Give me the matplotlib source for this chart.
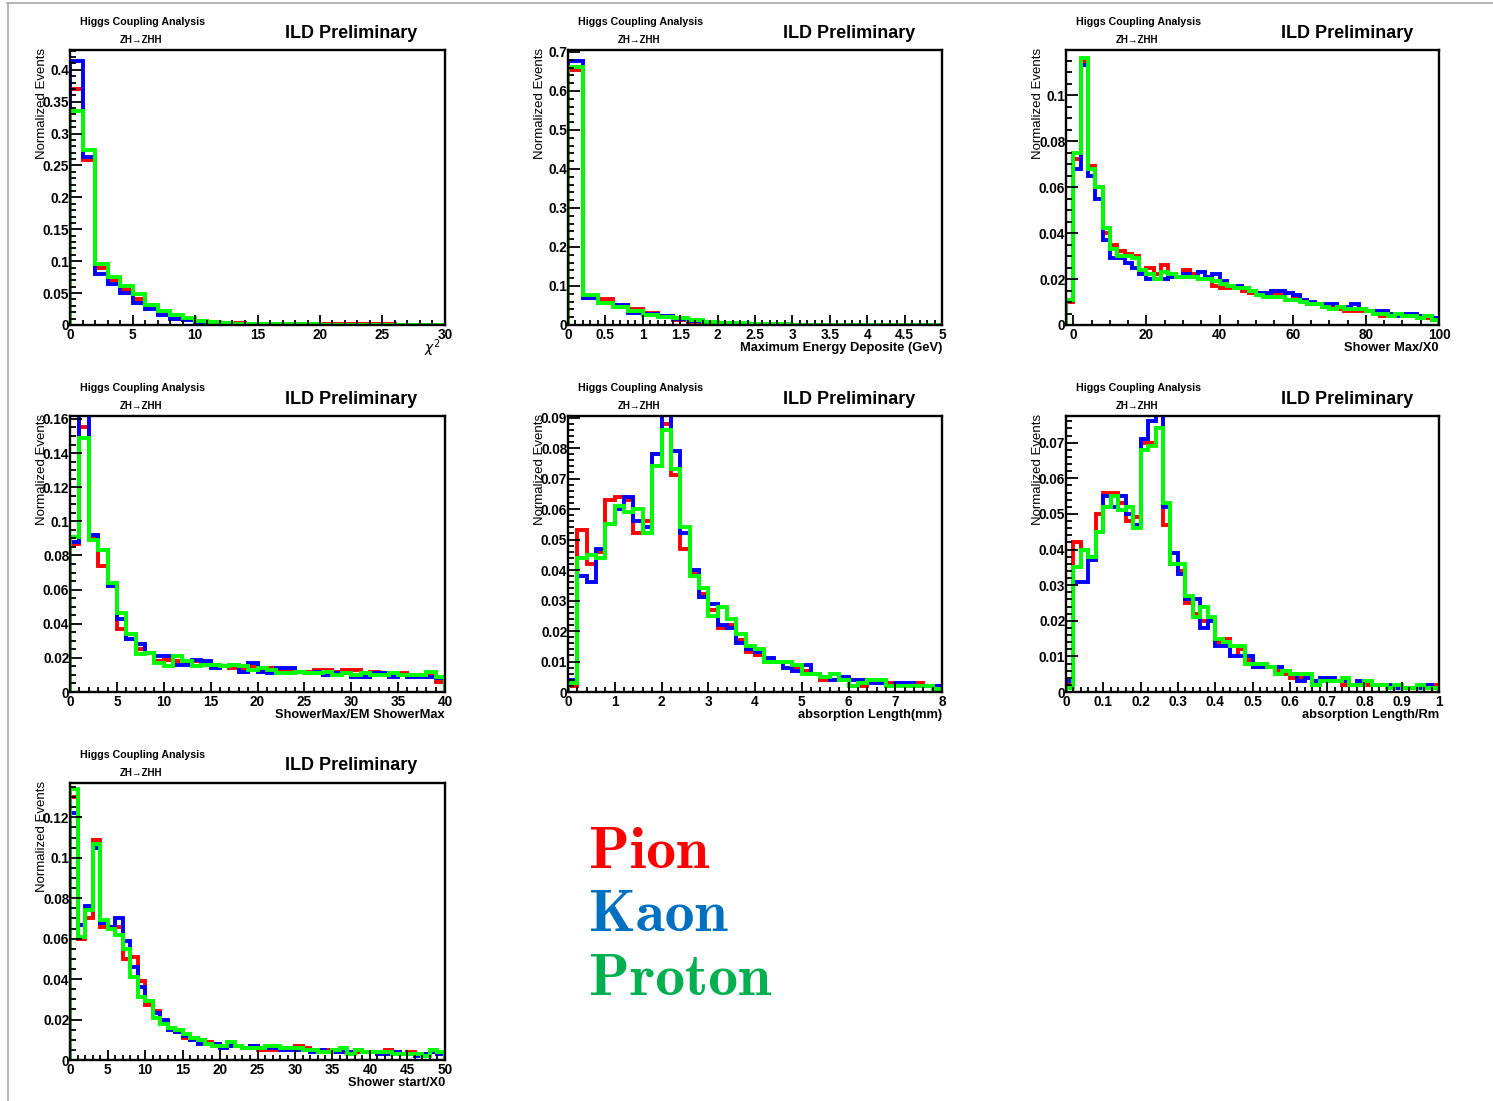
import numpy as np
import matplotlib
matplotlib.use('Agg')
import matplotlib.pyplot as plt
from matplotlib.ticker import MultipleLocator, FuncFormatter
from matplotlib.lines import Line2D

plt.rcParams['font.family'] = ['Liberation Sans', 'DejaVu Sans']

# ==== data (normalized events per bin) ====
# chi2, 30 bins from 0 to 30
chi2_pion = [0.370, 0.258, 0.089, 0.070, 0.055, 0.040, 0.032, 0.018, 0.013, 0.009,
             0.006, 0.004, 0.003, 0.003, 0.002, 0.002, 0.002, 0.002, 0.001, 0.001,
             0.001, 0.001, 0.001, 0.001, 0.001, 0.001, 0.000, 0.000, 0.000, 0.000]
chi2_kaon = [0.414, 0.263, 0.080, 0.064, 0.050, 0.035, 0.025, 0.015, 0.010, 0.008,
             0.005, 0.003, 0.002, 0.002, 0.001, 0.001, 0.001, 0.000, 0.000, 0.000,
             0.000, 0.000, 0.000, 0.000, 0.000, 0.000, 0.000, 0.000, 0.000, 0.000]
chi2_proton = [0.335, 0.275, 0.096, 0.076, 0.061, 0.048, 0.031, 0.022, 0.015, 0.011,
               0.007, 0.004, 0.003, 0.002, 0.002, 0.001, 0.001, 0.001, 0.001, 0.001,
               0.000, 0.000, 0.000, 0.000, 0.000, 0.000, 0.000, 0.000, 0.000, 0.000]

# max energy deposit, 25 bins from 0 to 5 GeV
edep_pion = [0.655, 0.070, 0.066, 0.050, 0.042, 0.030, 0.023, 0.012, 0.007, 0.005,
             0.003, 0.003, 0.002, 0.002, 0.001, 0.001, 0.001, 0.001, 0.001, 0.000,
             0.000, 0.000, 0.000, 0.000, 0.000]
edep_kaon = [0.676, 0.068, 0.056, 0.051, 0.030, 0.028, 0.022, 0.015, 0.010, 0.006,
             0.004, 0.003, 0.002, 0.002, 0.001, 0.001, 0.001, 0.000, 0.000, 0.000,
             0.000, 0.000, 0.000, 0.000, 0.000]
edep_proton = [0.661, 0.077, 0.056, 0.045, 0.035, 0.026, 0.020, 0.017, 0.012, 0.008,
               0.005, 0.004, 0.003, 0.002, 0.002, 0.001, 0.001, 0.001, 0.001, 0.001,
               0.000, 0.000, 0.000, 0.000, 0.000]

# shower max / X0, 51 bins from -2 to 100
smax_pion = [0.010, 0.072, 0.115, 0.069, 0.060, 0.040, 0.035, 0.032, 0.031, 0.030,
             0.023, 0.025, 0.022, 0.026, 0.022, 0.021, 0.024, 0.022, 0.020, 0.020,
             0.017, 0.016, 0.016, 0.016, 0.015, 0.014, 0.013, 0.013, 0.014, 0.013,
             0.014, 0.012, 0.011, 0.009, 0.009, 0.008, 0.008, 0.007, 0.006, 0.006,
             0.006, 0.006, 0.005, 0.004, 0.004, 0.004, 0.005, 0.004, 0.004, 0.003,
             0.002]
smax_kaon = [0.011, 0.068, 0.113, 0.065, 0.055, 0.037, 0.029, 0.029, 0.027, 0.025,
             0.022, 0.020, 0.020, 0.020, 0.021, 0.021, 0.022, 0.021, 0.023, 0.021,
             0.022, 0.019, 0.017, 0.017, 0.016, 0.015, 0.014, 0.014, 0.015, 0.015,
             0.014, 0.013, 0.011, 0.010, 0.009, 0.009, 0.009, 0.008, 0.008, 0.009,
             0.007, 0.006, 0.006, 0.006, 0.005, 0.004, 0.005, 0.005, 0.004, 0.004,
             0.003]
smax_proton = [0.011, 0.075, 0.116, 0.068, 0.060, 0.042, 0.033, 0.030, 0.030, 0.029,
               0.024, 0.022, 0.020, 0.023, 0.022, 0.021, 0.021, 0.021, 0.020, 0.020,
               0.019, 0.018, 0.017, 0.016, 0.016, 0.015, 0.013, 0.012, 0.012, 0.012,
               0.011, 0.011, 0.010, 0.009, 0.009, 0.008, 0.007, 0.008, 0.007, 0.007,
               0.007, 0.006, 0.005, 0.005, 0.004, 0.005, 0.004, 0.004, 0.003, 0.004,
               0.002]

# shower max / EM shower max, 40 bins from 0 to 40
ratio_pion = [0.087, 0.155, 0.090, 0.074, 0.063, 0.037, 0.031, 0.025, 0.023, 0.018,
              0.019, 0.018, 0.017, 0.018, 0.017, 0.016, 0.015, 0.014, 0.014, 0.015,
              0.013, 0.014, 0.013, 0.013, 0.012, 0.012, 0.013, 0.013, 0.012, 0.013,
              0.013, 0.011, 0.012, 0.011, 0.010, 0.011, 0.010, 0.010, 0.011, 0.006]
ratio_kaon = [0.088, 0.165, 0.092, 0.083, 0.062, 0.043, 0.031, 0.028, 0.023, 0.021,
              0.021, 0.016, 0.016, 0.019, 0.018, 0.014, 0.015, 0.016, 0.012, 0.017,
              0.012, 0.011, 0.014, 0.014, 0.012, 0.011, 0.012, 0.010, 0.011, 0.011,
              0.009, 0.009, 0.011, 0.011, 0.009, 0.010, 0.009, 0.009, 0.009, 0.008]
ratio_proton = [0.091, 0.149, 0.089, 0.083, 0.064, 0.046, 0.034, 0.022, 0.023, 0.017,
                0.015, 0.021, 0.018, 0.015, 0.016, 0.016, 0.015, 0.016, 0.015, 0.013,
                0.014, 0.013, 0.011, 0.011, 0.012, 0.011, 0.011, 0.012, 0.010, 0.011,
                0.010, 0.011, 0.010, 0.010, 0.011, 0.010, 0.010, 0.010, 0.012, 0.009]

# absorption length (mm), 40 bins from 0 to 8
absmm_pion = [0.002, 0.053, 0.042, 0.046, 0.063, 0.064, 0.063, 0.052, 0.056, 0.078,
              0.088, 0.071, 0.047, 0.039, 0.032, 0.027, 0.021, 0.022, 0.017, 0.013,
              0.012, 0.010, 0.010, 0.010, 0.008, 0.007, 0.006, 0.004, 0.004, 0.004,
              0.002, 0.002, 0.003, 0.004, 0.003, 0.003, 0.003, 0.003, 0.002, 0.002]
absmm_kaon = [0.004, 0.038, 0.036, 0.047, 0.055, 0.060, 0.064, 0.056, 0.054, 0.078,
              0.092, 0.079, 0.052, 0.040, 0.031, 0.029, 0.022, 0.021, 0.016, 0.014,
              0.013, 0.011, 0.010, 0.008, 0.007, 0.009, 0.006, 0.005, 0.004, 0.005,
              0.004, 0.004, 0.003, 0.003, 0.002, 0.003, 0.003, 0.002, 0.002, 0.002]
absmm_proton = [0.003, 0.044, 0.045, 0.044, 0.055, 0.061, 0.059, 0.060, 0.052, 0.074,
                0.086, 0.073, 0.054, 0.038, 0.034, 0.025, 0.028, 0.024, 0.019, 0.015,
                0.014, 0.010, 0.010, 0.010, 0.009, 0.006, 0.006, 0.005, 0.006, 0.004,
                0.002, 0.003, 0.004, 0.004, 0.002, 0.002, 0.002, 0.002, 0.002, 0.001]

# absorption length / Rm, 50 bins from 0 to 1
absrm_pion = [0.002, 0.042, 0.040, 0.038, 0.050, 0.056, 0.056, 0.053, 0.048, 0.049,
              0.070, 0.070, 0.074, 0.047, 0.036, 0.034, 0.025, 0.022, 0.020, 0.020,
              0.014, 0.015, 0.010, 0.012, 0.009, 0.008, 0.008, 0.007, 0.006, 0.005,
              0.004, 0.004, 0.004, 0.002, 0.003, 0.003, 0.003, 0.002, 0.002, 0.002,
              0.002, 0.002, 0.002, 0.002, 0.001, 0.001, 0.001, 0.001, 0.001, 0.002]
absrm_kaon = [0.003, 0.031, 0.031, 0.037, 0.045, 0.055, 0.052, 0.055, 0.050, 0.047,
              0.071, 0.076, 0.079, 0.052, 0.039, 0.033, 0.026, 0.026, 0.018, 0.020,
              0.013, 0.013, 0.010, 0.010, 0.010, 0.007, 0.007, 0.007, 0.007, 0.006,
              0.005, 0.003, 0.004, 0.003, 0.004, 0.004, 0.003, 0.003, 0.002, 0.003,
              0.003, 0.002, 0.002, 0.002, 0.001, 0.001, 0.001, 0.001, 0.002, 0.001]
absrm_proton = [0.001, 0.035, 0.040, 0.038, 0.045, 0.052, 0.055, 0.051, 0.052, 0.046,
                0.068, 0.069, 0.074, 0.053, 0.036, 0.036, 0.027, 0.021, 0.024, 0.021,
                0.015, 0.014, 0.013, 0.013, 0.008, 0.008, 0.008, 0.007, 0.005, 0.006,
                0.005, 0.005, 0.005, 0.002, 0.003, 0.003, 0.003, 0.004, 0.002, 0.002,
                0.003, 0.002, 0.002, 0.001, 0.002, 0.001, 0.001, 0.002, 0.001, 0.001]

# shower start / X0, 50 bins from 0 to 50
sstart_pion = [0.130, 0.060, 0.070, 0.109, 0.066, 0.066, 0.066, 0.050, 0.051, 0.039,
               0.027, 0.024, 0.019, 0.016, 0.014, 0.011, 0.011, 0.010, 0.009, 0.007,
               0.007, 0.007, 0.007, 0.006, 0.007, 0.005, 0.005, 0.005, 0.006, 0.006,
               0.007, 0.006, 0.005, 0.005, 0.005, 0.005, 0.004, 0.004, 0.004, 0.004,
               0.004, 0.003, 0.005, 0.004, 0.003, 0.004, 0.003, 0.003, 0.004, 0.003]
sstart_kaon = [0.122, 0.067, 0.076, 0.105, 0.068, 0.066, 0.070, 0.059, 0.046, 0.036,
               0.029, 0.023, 0.020, 0.015, 0.014, 0.012, 0.010, 0.008, 0.008, 0.008,
               0.006, 0.007, 0.007, 0.006, 0.007, 0.006, 0.006, 0.006, 0.005, 0.005,
               0.005, 0.005, 0.004, 0.005, 0.004, 0.004, 0.004, 0.004, 0.005, 0.004,
               0.004, 0.003, 0.003, 0.004, 0.003, 0.003, 0.002, 0.003, 0.004, 0.003]
sstart_proton = [0.134, 0.061, 0.074, 0.107, 0.069, 0.065, 0.062, 0.055, 0.041, 0.031,
                 0.029, 0.021, 0.018, 0.016, 0.015, 0.013, 0.011, 0.010, 0.008, 0.007,
                 0.007, 0.009, 0.007, 0.006, 0.006, 0.006, 0.007, 0.007, 0.006, 0.006,
                 0.006, 0.005, 0.005, 0.004, 0.004, 0.005, 0.006, 0.003, 0.005, 0.004,
                 0.004, 0.004, 0.004, 0.003, 0.003, 0.003, 0.003, 0.002, 0.005, 0.004]

species = ['Pion', 'Kaon', 'Proton']
species_colors = ['#ff0000', '#0070c0', '#00b050']
line_colors = ['#ff0000', '#0000ff', '#00ff00']

# panel settings: data, binning, axis ranges, tick steps, x title
panels = [
    dict(h=(chi2_pion, chi2_kaon, chi2_proton), lo=0, hi=30, ymax=0.431,
         xmaj=5, xmin=1, ymaj=0.05, ymin=0.01, xt=r'$\chi^{2}$'),
    dict(h=(edep_pion, edep_kaon, edep_proton), lo=0, hi=5, ymax=0.705,
         xmaj=0.5, xmin=0.1, ymaj=0.1, ymin=0.02, xt='Maximum Energy Deposite (GeV)'),
    dict(h=(smax_pion, smax_kaon, smax_proton), lo=-2, hi=100, ymax=0.1196,
         xmaj=20, xmin=5, ymaj=0.02, ymin=0.005, xt='Shower Max/X0'),
    dict(h=(ratio_pion, ratio_kaon, ratio_proton), lo=0, hi=40, ymax=0.1617,
         xmaj=5, xmin=1, ymaj=0.02, ymin=0.005, xt='ShowerMax/EM ShowerMax'),
    dict(h=(absmm_pion, absmm_kaon, absmm_proton), lo=0, hi=8, ymax=0.0905,
         xmaj=1, xmin=0.2, ymaj=0.01, ymin=0.002, xt='absorption Length(mm)'),
    dict(h=(absrm_pion, absrm_kaon, absrm_proton), lo=0, hi=1, ymax=0.0775,
         xmaj=0.1, xmin=0.02, ymaj=0.01, ymin=0.002, xt='absorption Length/Rm'),
    dict(h=(sstart_pion, sstart_kaon, sstart_proton), lo=0, hi=50, ymax=0.137,
         xmaj=5, xmin=1, ymaj=0.02, ymin=0.005, xt='Shower start/X0'),
]

# ==== layout (pixel boxes) ====
W, H = 1493, 1101
fig = plt.figure(figsize=(W / 100, H / 100), dpi=100)
cols = [(70, 445), (568, 942), (1066, 1439)]
rows = [(50, 325), (416, 692), (783, 1060)]

fmt = FuncFormatter(lambda v, p: '%g' % round(v, 6))

for k, p in enumerate(panels):
    (x0, x1), (y0, y1) = cols[k % 3], rows[k // 3]
    ax = fig.add_axes([x0 / W, 1 - y1 / H, (x1 - x0) / W, (y1 - y0) / H])
    n = len(p['h'][0])
    edges = np.linspace(p['lo'], p['hi'], n + 1)
    for vals, c in zip(p['h'], line_colors):
        ax.stairs(vals, edges, color=c, linewidth=2.8, baseline=0)
    ax.set_xlim(p['lo'], p['hi'])
    ax.set_ylim(0, p['ymax'])
    ax.xaxis.set_major_locator(MultipleLocator(p['xmaj']))
    ax.xaxis.set_minor_locator(MultipleLocator(p['xmin']))
    ax.yaxis.set_major_locator(MultipleLocator(p['ymaj']))
    ax.yaxis.set_minor_locator(MultipleLocator(p['ymin']))
    ax.xaxis.set_major_formatter(fmt)
    ax.yaxis.set_major_formatter(fmt)
    for s in ax.spines.values():
        s.set_linewidth(1.7)
        s.set_zorder(3)
    ax.tick_params(axis='both', which='both', direction='in', width=1.3,
                   top=False, right=False, labelsize=9.8)
    ax.tick_params(axis='y', which='major', length=8.5, pad=0.5)
    ax.tick_params(axis='y', which='minor', length=4.3)
    ax.tick_params(axis='x', which='major', length=7.5, pad=2)
    ax.tick_params(axis='x', which='minor', length=3.8)
    for lab in ax.get_xticklabels() + ax.get_yticklabels():
        lab.set_fontweight('bold')

    # ROOT style titles
    fig.text((x0 + 72) / W, 1 - (y0 - 28) / H, 'Higgs Coupling Analysis',
             fontsize=7.7, fontweight='bold', ha='center', va='center')
    fig.text((x0 + 71) / W, 1 - (y0 - 10) / H, 'ZH\u2192ZHH',
             fontsize=7, fontweight='bold', ha='center', va='center')
    fig.text((x0 + 347) / W, 1 - (y0 - 17) / H, 'ILD Preliminary',
             fontsize=13, fontweight='bold', ha='right', va='center')
    fig.text((x0 - 28) / W, 1 - (y0 - 2) / H, 'Normalized Events',
             fontsize=9.5, rotation=90, ha='center', va='top')
    xt_size = 10 if k == 0 else 9.3
    fig.text((x1 - (4 if k == 0 else 0)) / W, 1 - (y1 + 23) / H, p['xt'],
             fontsize=xt_size, fontweight='bold', ha='right', va='center')

# ==== legend text ====
for name, c, yb in zip(species, species_colors, [868, 931, 995]):
    fig.text(589 / W, 1 - yb / H, name, color=c, fontsize=43,
             family=['cmb10', 'DejaVu Serif'], ha='left', va='baseline')

# frame of the slide
fig.add_artist(Line2D([7 / W, 1], [1 - 3 / H, 1 - 3 / H], color='#a8a8a8', linewidth=1.2))
fig.add_artist(Line2D([8 / W, 8 / W], [0, 1 - 3 / H], color='#a8a8a8', linewidth=1.2))

fig.savefig('out.png', dpi=100)
